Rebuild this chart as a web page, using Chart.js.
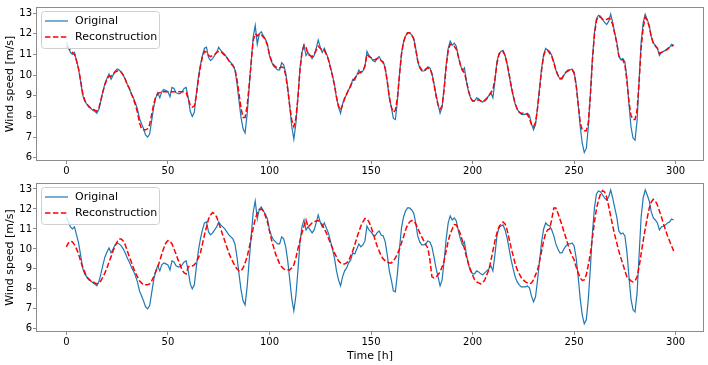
<!DOCTYPE html>
<html>
<head>
<meta charset="utf-8">
<script src="https://cdn.jsdelivr.net/npm/chart.js@4.4.1/dist/chart.umd.min.js"></script>
<style>
  html, body { margin: 0; padding: 0; background: #fff; }
  #wrap { position: relative; width: 708px; height: 365px; }
  .box { position: absolute; left: 0; width: 708px; }
</style>
</head>
<body>
<div id="wrap">
  <div class="box" style="top:0;height:176px"><canvas id="top"></canvas></div>
  <div class="box" style="top:176px;height:189px"><canvas id="bottom"></canvas></div>
</div>
<script>
// time axis (hours)
const hours = Array.from({ length: 300 }, (_, i) => i);
const xTicks = [0, 50, 100, 150, 200, 250, 300];
const yTicks = [6, 7, 8, 9, 10, 11, 12, 13];

// measured wind speed, same in both panels
const original = [
  11.6, 11.35, 11.1, 11.0, 11.1, 10.7, 10.3, 9.7, 9.05, 8.75,
  8.6, 8.45, 8.4, 8.3, 8.25, 8.15, 8.35, 8.75, 9.2, 9.6,
  9.85, 10.05, 9.8, 10.0, 10.2, 10.3, 10.25, 10.15, 10.0, 9.8,
  9.55, 9.35, 9.1, 8.9, 8.65, 8.35, 7.9, 7.65, 7.4, 7.1,
  7.0, 7.15, 7.8, 8.45, 8.9, 9.15, 8.9, 9.2, 9.3, 9.25,
  9.2, 8.95, 9.4, 9.35, 9.15, 9.1, 9.1, 9.2, 9.35, 9.4,
  8.9, 8.25, 8.0, 8.2, 9.1, 9.9, 10.5, 10.95, 11.3, 11.35,
  10.85, 10.7, 10.8, 10.95, 11.1, 11.35, 11.2, 11.1, 11.0, 10.85,
  10.7, 10.6, 10.5, 10.25, 9.6, 8.75, 7.95, 7.4, 7.2, 8.1,
  9.4, 10.65, 11.85, 12.4, 11.5, 12.0, 12.1, 11.9, 11.75, 11.5,
  10.95, 10.65, 10.45, 10.35, 10.25, 10.25, 10.6, 10.5, 10.1, 9.4,
  8.45, 7.5, 6.9, 7.65, 8.9, 10.3, 11.1, 11.45, 10.95, 11.1,
  10.95, 10.8, 10.95, 11.3, 11.7, 11.35, 11.1, 11.3, 11.05, 10.8,
  10.4, 10.0, 9.55, 8.9, 8.45, 8.15, 8.6, 8.9, 9.05, 9.3,
  9.45, 9.8, 9.75, 10.0, 10.25, 10.1, 10.2, 10.4, 11.15, 10.95,
  10.85, 10.7, 10.65, 10.8, 10.9, 10.7, 10.65, 10.35, 9.7, 8.9,
  8.45, 7.9, 7.85, 8.75, 10.0, 11.05, 11.6, 11.9, 12.05, 12.05,
  11.95, 11.8, 11.3, 10.65, 10.35, 10.2, 10.2, 10.25, 10.4, 10.35,
  10.1, 9.6, 9.05, 8.6, 8.15, 8.45, 9.4, 10.5, 11.3, 11.65,
  11.45, 11.55, 11.4, 10.9, 10.5, 10.2, 10.35, 9.7, 9.2, 8.9,
  8.75, 8.75, 8.9, 8.85, 8.75, 8.7, 8.8, 8.9, 9.0, 9.15,
  8.9, 9.7, 10.65, 11.05, 11.15, 11.2, 10.95, 10.55, 10.0, 9.45,
  9.0, 8.6, 8.35, 8.2, 8.1, 8.1, 8.1, 8.15, 8.05, 7.65,
  7.35, 7.6, 8.45, 9.4, 10.35, 11.0, 11.3, 11.2, 11.15, 10.95,
  10.65, 10.25, 10.0, 9.8, 9.8, 10.0, 10.15, 10.25, 10.25, 10.3,
  10.15, 9.55, 8.6, 7.5, 6.7, 6.25, 6.45, 7.5, 9.05, 10.8,
  12.05, 12.75, 12.9, 12.85, 12.7, 12.55, 12.45, 12.6, 12.95, 12.55,
  12.05, 11.6, 10.9, 10.75, 10.8, 10.65, 9.85, 8.6, 7.5, 6.95,
  6.85, 7.8, 9.7, 11.6, 12.55, 12.95, 12.7, 12.4, 11.85, 11.55,
  11.45, 11.3, 10.95, 11.1, 11.15, 11.2, 11.3, 11.35, 11.5, 11.45
];

// reconstruction, upper panel
const reconTop = [
  11.4, 11.3, 11.2, 11.1, 11.0, 10.7, 10.3, 9.75, 9.15, 8.8,
  8.6, 8.5, 8.4, 8.35, 8.3, 8.25, 8.4, 8.8, 9.2, 9.55,
  9.8, 9.95, 9.95, 10.05, 10.15, 10.2, 10.2, 10.15, 10.0, 9.8,
  9.55, 9.35, 9.1, 8.85, 8.55, 8.2, 7.7, 7.4, 7.35, 7.35,
  7.4, 7.6, 8.1, 8.6, 8.95, 9.1, 9.15, 9.2, 9.2, 9.2,
  9.2, 9.15, 9.2, 9.2, 9.2, 9.2, 9.2, 9.2, 9.2, 9.15,
  8.85, 8.55, 8.45, 8.5, 9.0, 9.8, 10.4, 10.9, 11.15, 11.1,
  10.95, 10.9, 10.95, 11.0, 11.1, 11.15, 11.15, 11.05, 10.95, 10.85,
  10.7, 10.55, 10.45, 10.3, 9.8, 9.1, 8.4, 7.95, 7.95, 8.5,
  9.5, 10.6, 11.7, 12.0, 11.9, 12.0, 11.95, 11.85, 11.7, 11.45,
  11.0, 10.7, 10.5, 10.4, 10.35, 10.35, 10.4, 10.35, 10.0, 9.3,
  8.5, 7.8, 7.5, 7.9, 8.9, 10.2, 11.1, 11.45, 11.35, 11.0,
  10.95, 10.9, 11.0, 11.2, 11.4, 11.3, 11.2, 11.2, 11.0, 10.75,
  10.35, 9.95, 9.5, 8.95, 8.5, 8.3, 8.55, 8.85, 9.1, 9.3,
  9.5, 9.7, 9.85, 10.0, 10.1, 10.15, 10.2, 10.45, 11.0, 10.9,
  10.85, 10.75, 10.75, 10.8, 10.8, 10.7, 10.6, 10.3, 9.7, 8.95,
  8.45, 8.2, 8.3, 8.9, 10.0, 11.0, 11.6, 11.9, 12.05, 12.05,
  11.95, 11.75, 11.25, 10.7, 10.4, 10.25, 10.2, 10.3, 10.35, 10.3,
  10.05, 9.55, 9.0, 8.55, 8.35, 8.5, 9.3, 10.4, 11.2, 11.5,
  11.45, 11.4, 11.25, 10.9, 10.5, 10.25, 10.1, 9.7, 9.25, 8.9,
  8.75, 8.75, 8.8, 8.8, 8.75, 8.7, 8.75, 8.85, 9.0, 9.15,
  9.3, 9.8, 10.55, 11.0, 11.15, 11.15, 10.95, 10.55, 10.05, 9.5,
  9.0, 8.6, 8.35, 8.2, 8.15, 8.15, 8.1, 8.1, 7.9, 7.6,
  7.5, 7.7, 8.4, 9.3, 10.25, 10.95, 11.2, 11.2, 11.05, 10.9,
  10.6, 10.25, 10.0, 9.85, 9.85, 10.0, 10.15, 10.2, 10.25, 10.25,
  10.1, 9.5, 8.6, 7.7, 7.35, 7.3, 7.3, 7.7, 9.0, 10.7,
  11.95, 12.65, 12.85, 12.8, 12.7, 12.7, 12.7, 12.75, 12.7, 12.45,
  12.0, 11.55, 10.95, 10.75, 10.75, 10.5, 9.7, 8.7, 8.05, 7.85,
  7.85, 8.3, 9.7, 11.3, 12.3, 12.8, 12.65, 12.35, 11.85, 11.55,
  11.4, 11.3, 11.05, 11.1, 11.15, 11.2, 11.25, 11.35, 11.4, 11.45
];

// reconstruction, lower panel
const reconBottom = [
  10.1, 10.3, 10.38, 10.35, 10.2, 10.0, 9.75, 9.4, 9.1, 8.85,
  8.6, 8.5, 8.4, 8.35, 8.3, 8.25, 8.3, 8.4, 8.6, 8.8,
  9.05, 9.35, 9.6, 9.9, 10.15, 10.35, 10.5, 10.5, 10.4, 10.2,
  9.9, 9.6, 9.35, 9.05, 8.8, 8.6, 8.4, 8.3, 8.2, 8.2,
  8.2, 8.25, 8.4, 8.6, 8.85, 9.1, 9.4, 9.75, 10.05, 10.3,
  10.42, 10.4, 10.25, 10.0, 9.75, 9.45, 9.2, 8.95, 8.8, 8.75,
  9.1, 9.15, 9.15, 9.2, 9.35, 9.55, 9.8, 10.25, 10.7, 11.1,
  11.5, 11.7, 11.82, 11.75, 11.6, 11.3, 11.0, 10.7, 10.4, 10.1,
  9.8, 9.55, 9.35, 9.15, 9.0, 8.9, 8.9, 9.05, 9.3, 9.6,
  10.05, 10.55, 11.05, 11.5, 11.8, 11.95, 12.0, 11.9, 11.65, 11.35,
  10.9, 10.45, 10.1, 9.75, 9.5, 9.25, 9.1, 9.0, 8.95, 8.95,
  8.95, 9.05, 9.2, 9.55, 10.0, 10.4, 10.8, 11.15, 11.45, 11.1,
  11.2, 11.3, 11.35, 11.4, 11.42, 11.35, 11.2, 11.0, 10.8, 10.55,
  10.3, 10.05, 9.8, 9.6, 9.4, 9.3, 9.25, 9.25, 9.3, 9.4,
  9.65, 9.9, 10.2, 10.55, 10.85, 11.15, 11.35, 11.52, 11.5, 11.35,
  11.1, 10.8, 10.45, 10.15, 9.9, 9.65, 9.5, 9.4, 9.35, 9.3,
  9.3, 9.4, 9.55, 9.75, 10.0, 10.3, 10.6, 10.95, 11.2, 11.35,
  11.42, 11.4, 11.25, 11.05, 10.8, 10.6, 10.4, 10.2, 10.05, 9.45,
  8.6, 8.55, 8.6, 8.7, 8.85, 9.1, 9.4, 9.9, 10.4, 10.75,
  11.0, 11.22, 11.2, 11.0, 10.75, 10.4, 10.0, 9.6, 9.25, 8.95,
  8.7, 8.45, 8.35, 8.3, 8.25, 8.3, 8.45, 8.7, 8.95, 9.4,
  9.9, 10.4, 10.8, 11.1, 11.25, 11.35, 11.25, 10.95, 10.5, 10.05,
  9.65, 9.25, 8.95, 8.75, 8.55, 8.45, 8.35, 8.3, 8.25, 8.3,
  8.45, 8.7, 8.95, 9.4, 9.9, 10.4, 10.8, 10.95, 11.0, 11.5,
  12.05, 12.05, 11.8, 11.5, 11.2, 10.85, 10.55, 10.2, 9.9, 9.65,
  9.45, 9.1, 8.8, 8.55, 8.42, 8.45, 8.7, 9.2, 9.75, 10.55,
  11.35, 12.0, 12.45, 12.75, 12.92, 12.85, 12.6, 12.15, 11.65, 11.15,
  10.7, 10.3, 9.9, 9.55, 9.25, 8.9, 8.6, 8.5, 8.4, 8.35,
  8.4, 8.6, 9.1, 9.75, 10.4, 11.0, 11.55, 12.05, 12.35, 12.48,
  12.4, 12.2, 11.9, 11.6, 11.25, 10.95, 10.65, 10.4, 10.15, 9.9
];

const FONT = 'DejaVu Sans';
const axisGray = '#8c8c8c';

function toPoints(values) {
  return values.map((v, i) => ({ x: hours[i], y: v }));
}

// frame around the plot area
const framePlugin = {
  id: 'frame',
  afterDatasetsDraw(chart) {
    const a = chart.chartArea;
    const ctx = chart.ctx;
    ctx.save();
    ctx.strokeStyle = axisGray;
    ctx.lineWidth = 1;
    ctx.strokeRect(Math.round(a.left) + 0.5, Math.round(a.top) + 0.5,
      Math.round(a.right - a.left) - 1, Math.round(a.bottom - a.top) - 1);
    ctx.restore();
  }
};

// matplotlib-like legend inside the axes, upper left
const boxLegend = {
  id: 'boxLegend',
  afterDraw(chart) {
    const a = chart.chartArea;
    const ctx = chart.ctx;
    const x = a.left + 5, y = a.top + 4, w = 118, h = 37;
    ctx.save();
    ctx.beginPath();
    ctx.roundRect(x + 0.5, y + 0.5, w, h, 3);
    ctx.fillStyle = 'rgba(255,255,255,0.8)';
    ctx.fill();
    ctx.strokeStyle = '#d0d0d0';
    ctx.lineWidth = 1;
    ctx.stroke();
    ctx.font = '11px "' + FONT + '"';
    ctx.textBaseline = 'middle';
    ctx.fillStyle = '#000';
    chart.data.datasets.forEach((ds, i) => {
      const ly = y + 10 + i * 16;
      ctx.beginPath();
      ctx.setLineDash(ds.borderDash || []);
      ctx.strokeStyle = ds.borderColor;
      ctx.lineWidth = ds.borderWidth;
      ctx.moveTo(x + 4, ly);
      ctx.lineTo(x + 27, ly);
      ctx.stroke();
      ctx.setLineDash([]);
      ctx.fillText(ds.label, x + 34, ly + 0.5);
    });
    ctx.restore();
  }
};

function makeChart(id, recon, opts) {
  new Chart(document.getElementById(id), {
    type: 'line',
    data: {
      datasets: [
        {
          label: 'Original',
          data: toPoints(original),
          borderColor: '#1f77b4',
          borderWidth: 1.2,
          pointRadius: 0,
          order: 1
        },
        {
          label: 'Reconstruction',
          data: toPoints(recon),
          borderColor: '#ff0000',
          borderWidth: 1.5,
          borderDash: [5.5, 2.4],
          pointRadius: 0,
          order: 0
        }
      ]
    },
    options: {
      responsive: true,
      maintainAspectRatio: false,
      animation: false,
      events: [],
      layout: { padding: { left: 0, right: 4, top: opts.top, bottom: 0 } },
      plugins: { legend: { display: false }, tooltip: { enabled: false } },
      scales: {
        x: {
          type: 'linear',
          min: -14.95,
          max: 313.95,
          afterBuildTicks: s => { s.ticks = xTicks.map(v => ({ value: v })); },
          afterFit: s => { s.height = opts.xh; },
          border: { display: false },
          grid: { drawOnChartArea: false, tickLength: 3, color: axisGray },
          ticks: { color: '#000', font: { family: FONT, size: 10 }, padding: 1, maxRotation: 0 },
          title: {
            display: opts.xTitle,
            text: 'Time [h]',
            color: '#000',
            font: { family: FONT, size: 11 },
            padding: { top: 0, bottom: 2 }
          }
        },
        y: {
          min: 5.84,
          max: 13.3,
          afterBuildTicks: s => { s.ticks = yTicks.map(v => ({ value: v })); },
          afterFit: s => { s.width = 36; },
          border: { display: false },
          grid: { drawOnChartArea: false, tickLength: 3, color: axisGray },
          ticks: { color: '#000', font: { family: FONT, size: 10 }, padding: 1 },
          title: {
            display: true,
            text: 'Wind speed [m/s]',
            color: '#000',
            font: { family: FONT, size: 11 },
            padding: { top: 4, bottom: 0 }
          }
        }
      }
    },
    plugins: [framePlugin, boxLegend]
  });
}

makeChart('top', reconTop, { top: 4, xh: 15, xTitle: false });
makeChart('bottom', reconBottom, { top: 1, xh: 33, xTitle: true });
</script>
</body>
</html>
